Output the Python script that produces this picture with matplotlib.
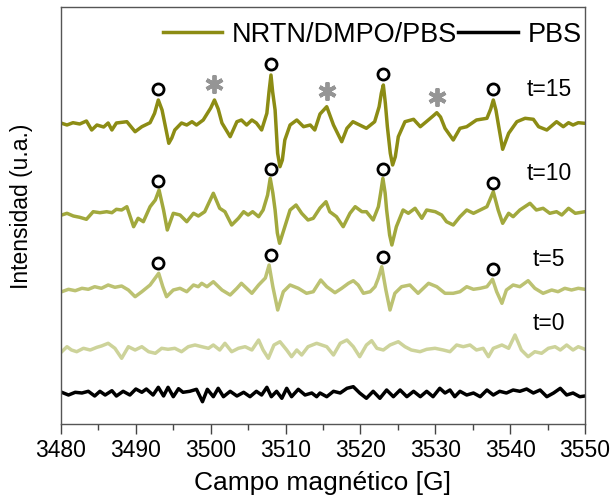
import numpy as np
import matplotlib
matplotlib.use("Agg")
import matplotlib.pyplot as plt
from matplotlib.ticker import MultipleLocator

# EPR spectra (field in G, intensity in arbitrary units), one list pair per trace
field_t15 = [3480.1, 3480.8, 3481.6, 3482.5, 3483.4, 3484.1, 3484.8, 3485.7, 3486.3, 3486.8,
             3487.4, 3488.8, 3489.9, 3490.8, 3491.9, 3492.5, 3493.0, 3493.5, 3494.4, 3494.8,
             3495.2, 3496.1, 3496.8, 3497.5, 3498.1, 3499.0, 3500.0, 3500.5, 3501.0, 3501.5,
             3502.6, 3503.5, 3504.1, 3504.8, 3505.5, 3506.1, 3506.8, 3507.5, 3507.79, 3508.05,
             3508.27, 3508.6, 3508.94, 3509.25, 3509.57, 3509.9, 3510.6, 3511.5, 3512.4, 3513.3,
             3513.9, 3514.6, 3515.5, 3516.4, 3517.5, 3518.2, 3519.0, 3519.9, 3520.8, 3521.9,
             3522.5, 3522.79, 3523.06, 3523.33, 3523.6, 3523.99, 3524.3, 3524.66, 3525.06, 3525.95,
             3527.1, 3528.0, 3528.8, 3529.7, 3530.2, 3530.7, 3531.3, 3532.4, 3533.3, 3534.2,
             3535.5, 3536.9, 3537.4, 3537.75, 3538.1, 3538.4, 3539.0, 3539.8, 3540.9, 3542.0,
             3543.1, 3543.8, 3544.9, 3546.2, 3547.1, 3547.8, 3548.4, 3549.1, 3550.0]
int_t15 = [-0.3, -2, 0.3, -1, 2, -7, -2, -4, 0, -7,
           0, 1.3, -8.7, -3.7, 0.3, 9.7, 23, 13, -20.3, -15,
           -7, 0, -2, 1.3, -2, 3, 15, 23, 14, 0,
           -13.7, 1.3, 3, -2, 3, 0, -7, 9.7, 31.3, 48,
           31.3, 13, -30.3, -43.7, -37, -17, -2, 3, -3.7, -2,
           -7, 9, 16.3, -2, -18.7, -5.3, 1.3, -2, -5.3, 1.3,
           16.3, 29.7, 38, 19.7, -3.7, -30.3, -42, -33.7, -13.7, 1.3,
           3.7, -3.7, 1.3, 7, 10.3, 6, -5.3, -17, -5.3, -3.7,
           3, 4.7, 14, 23, 13, -0.3, -26.3, -10.3, 1.3, 4.7,
           3.7, -3.7, -7, 1.3, -3.7, 0.3, -2, 0.3, -0.3]

field_t10 = [3480.1, 3480.8, 3481.65, 3482.5, 3483.4, 3484.3, 3485.2, 3486.1, 3486.8, 3487.4,
             3488.1, 3488.8, 3489.7, 3490.3, 3491.0, 3491.9, 3492.6, 3493.1, 3493.7, 3494.2,
             3495.0, 3495.9, 3496.8, 3497.7, 3498.35, 3499.2, 3500.35, 3501.2, 3501.9, 3502.8,
             3503.7, 3504.4, 3505.0, 3505.6, 3506.4, 3507.0, 3507.6, 3507.95, 3508.3, 3508.6,
             3508.9, 3509.2, 3509.9, 3510.6, 3511.4, 3512.15, 3513.0, 3513.7, 3514.6, 3515.4,
             3515.9, 3516.8, 3517.7, 3518.6, 3519.3, 3520.2, 3520.8, 3521.7, 3522.4, 3522.7,
             3523.0, 3523.3, 3523.5, 3523.9, 3524.2, 3524.8, 3525.7, 3526.4, 3527.3, 3528.2,
             3528.85, 3530.0, 3530.85, 3531.5, 3532.4, 3533.3, 3534.2, 3535.1, 3536.0, 3536.9,
             3537.75, 3538.4, 3539.0, 3539.8, 3540.4, 3541.3, 3542.65, 3543.5, 3544.4, 3545.3,
             3546.2, 3546.9, 3547.8, 3548.7, 3550.0]
int_t10 = [0, 1.7, -1, -2.3, -4.3, 3.3, 2.3, 3.3, 2.3, 5.7,
           5, 8.3, -11.7, -3.3, -6.7, 8.3, 15, 25, 5, -15,
           1.7, 0, -6.7, 1.7, -1, 3.3, 21.7, 6.7, 3.3, -10,
           -3.3, 3.3, 0, 3.3, -1.7, 5, 20, 36.7, 22, 5,
           -18, -28.3, -11.7, 5, 10, 1.7, -5, -3.3, 7, 13.3,
           3.3, -1.7, -11.7, 1.7, 8.3, 3.3, 3.3, -5, 8.3, 22,
           36.7, 22, 5, -20, -30, -11.7, 5, 1.7, 6.7, -3.3,
           5, 3.3, 0, -6.7, -10, -1.7, 5, 1.7, 5, 8.3,
           23.3, 5, -8.3, 1.7, -1.7, 5, 11.7, 5, 6.7, 1.7,
           3.3, 0, 6.7, 1.7, 3.3]

field_t5 = [3480.1, 3481.0, 3481.9, 3482.8, 3483.65, 3484.5, 3485.4, 3486.3, 3487.2, 3488.1,
            3489.0, 3489.9, 3490.8, 3491.9, 3493.05, 3493.6, 3494.1, 3495.0, 3495.9, 3496.8,
            3497.7, 3498.35, 3498.8, 3499.5, 3500.35, 3501.5, 3502.6, 3503.5, 3504.1, 3504.8,
            3505.5, 3506.4, 3507.3, 3507.8, 3508.3, 3508.95, 3509.7, 3510.6, 3511.7, 3512.8,
            3513.7, 3514.7, 3515.5, 3516.6, 3517.5, 3518.4, 3519.05, 3519.7, 3520.4, 3521.3,
            3521.95, 3522.4, 3522.85, 3523.4, 3523.95, 3524.6, 3525.5, 3526.6, 3527.7, 3529.1,
            3530.2, 3531.3, 3532.4, 3533.3, 3534.2, 3535.1, 3536.0, 3536.9, 3537.65, 3538.2,
            3538.9, 3539.5, 3540.4, 3541.3, 3542.4, 3543.3, 3544.4, 3545.55, 3546.4, 3547.3,
            3548.2, 3549.1, 3550.0]
int_t5 = [-1.7, 0.7, -0.7, 1.7, 0.7, 3.3, 1.7, 5, 2.7, 4,
          0, -6.7, -1.7, 5, 16.7, 3.3, -6.7, 0, 1.7, -1.7,
          5, 3.3, 6.7, 3.3, 8.3, 0, -5, 1.7, 6.7, 1.7,
          -3.3, 5, 12, 25, 3.3, -20, -1.7, 5, 1.7, -3.3,
          -1.7, 10, 3.3, -2.7, 1.7, 6.7, 9.3, 5, -3.3, -1.7,
          3.3, 12, 23.3, 0, -20, -3.3, 3.3, 5, -3.3, 6.7,
          3.3, -3.3, -3.3, -1.7, 3.3, 0.7, 1.7, 3.3, 10.7, -1.7,
          -13.3, 0, 5, 3.3, 9.3, 1.7, -3.3, 0, -1.7, 1.7,
          0, 1.7, 0.7]

field_t0 = [3480.1, 3480.8, 3481.4, 3482.1, 3483.0, 3483.9, 3484.8, 3485.4, 3486.3, 3487.2,
            3488.1, 3489.0, 3489.9, 3490.8, 3491.7, 3492.6, 3493.45, 3494.3, 3495.2, 3496.1,
            3497.0, 3497.9, 3498.8, 3499.7, 3500.35, 3501.2, 3501.9, 3502.8, 3503.7, 3504.6,
            3505.5, 3506.4, 3507.0, 3507.7, 3508.45, 3509.25, 3510.15, 3510.8, 3511.5, 3512.15,
            3513.0, 3514.15, 3515.5, 3516.4, 3517.3, 3518.2, 3519.05, 3519.9, 3520.8, 3521.5,
            3522.2, 3523.06, 3523.95, 3525.06, 3525.95, 3526.8, 3527.96, 3528.85, 3529.96, 3531.07,
            3531.96, 3532.85, 3533.74, 3534.64, 3535.5, 3536.4, 3537.1, 3537.75, 3538.9, 3539.8,
            3540.65, 3541.5, 3542.4, 3543.3, 3544.2, 3545.1, 3546.0, 3546.7, 3547.55, 3548.4,
            3549.1, 3550.0]
int_t0 = [-1.7, 3.3, 0, -1.7, 1.7, 0, 2.7, 4, 6.7, 1.7,
          -8.3, 3.3, 0, 3.3, -1.7, -3.3, 1.7, 0.7, 1.7, -1.7,
          3.3, 5, 3.3, 1.7, 5, 0, 6.7, -1.7, 1.7, 3.3,
          0, 10, 0, -8.3, 5, 8.3, 0, -6.7, 0, -5,
          3.3, 6.7, 3.3, -5, 6.7, 10, 3.3, -6.7, 5, 9.3,
          1.7, 0, 5, 8.3, 3.3, 0, -1.7, 0.7, 1.7, 0,
          -1.7, 5, 3.3, 5, 0, 1.7, -6.7, 1.7, 5, 1.7,
          15, 0, -6.7, -1.7, -3.3, 1.7, 3.3, 0, 5, 0,
          3.3, 0.7]

field_pbs = [3480.1, 3481.0, 3481.9, 3482.8, 3483.65, 3484.5, 3485.2, 3485.9, 3486.8, 3487.4,
             3488.3, 3489.2, 3490.0, 3490.8, 3491.4, 3492.3, 3493.0, 3493.7, 3494.3, 3495.0,
             3495.7, 3496.3, 3497.2, 3498.1, 3498.9, 3499.55, 3500.35, 3501.0, 3501.7, 3502.6,
             3503.5, 3504.4, 3505.25, 3506.1, 3506.8, 3507.5, 3508.1, 3508.8, 3509.5, 3510.15,
             3510.8, 3511.7, 3512.6, 3513.5, 3514.15, 3514.6, 3515.5, 3516.4, 3517.3, 3518.2,
             3519.05, 3519.9, 3520.8, 3521.7, 3522.6, 3523.5, 3524.4, 3525.3, 3526.2, 3527.1,
             3528.0, 3528.85, 3529.7, 3530.6, 3531.3, 3531.96, 3532.6, 3533.3, 3534.2, 3535.1,
             3536.0, 3536.9, 3537.75, 3538.6, 3539.5, 3540.4, 3541.3, 3542.2, 3543.1, 3544.0,
             3544.9, 3545.8, 3546.7, 3547.55, 3548.4, 3549.3, 3550.0]
int_pbs = [0.7, -2, 0.7, 0, 1.7, -3, 1.7, -2, 2.3, -3,
           1.7, -2, 4, 0.7, 4, -2, 5.7, -3, 5.7, -3.7,
           4.3, 0.7, 1.7, 3.7, -8.7, 3.7, -3.7, 4.7, -3.7, 1.7,
           -3, 0.7, -3.7, 1.7, -2, 5.7, -3.7, 1.7, -5.3, 4.7,
           -3.7, 3.7, -2, 0, -3.7, 0, -3.7, 1.7, 0, 4.7,
           6.3, 0, -5.3, 1.7, -5.3, 3, -3.7, 3, -3.7, 1.7,
           -3.7, 1.7, -3.7, 4.7, 0, 3, -3.7, 1.7, -2, 0,
           -3.7, 3, -2, 1.7, 0, 3, 1.7, 4, 0, 3,
           -3.7, 0, 4.7, -2, 0, -3.7, -3]

# DMPO-OH quartet lines (circles) and secondary adduct lines (asterisks)
circle_fields = [3493.0, 3508.0, 3523.0, 3537.7]
star_fields = [3500.5, 3515.5, 3530.2]

trace_labels = ["t=15", "t=10", "t=5", "t=0"]


def peak_height(fx, fy, centre):
    # largest intensity within half a gauss of the line position
    return max(v for f, v in zip(fx, fy) if abs(f - centre) < 0.6)


def build_plot():
    plt.rcParams['font.family'] = ['Liberation Sans', 'DejaVu Sans']

    fig = plt.figure(figsize=(6.14, 4.97), dpi=100)
    ax = fig.add_axes([61 / 614, 73 / 497, 524 / 614, 417 / 497])

    # vertical stacking of the traces: data, offset, colour, label height, circle gap
    traces = [
        (field_t15, int_t15, 301, '#8c8c14', 34, 11),
        (field_t10, int_t10, 209, '#a1a83c', 42, 9),
        (field_t5, int_t5, 134, '#bcc272', 30, 10),
        (field_t0, int_t0, 74, '#cdd39a', 27, None),
    ]

    for i, (fx, fy, off, color, lab_dy, gap) in enumerate(traces):
        y = np.array(fy) + off
        ax.plot(fx, y, color=color, lw=2.5, solid_joinstyle='round',
                label='NRTN/DMPO/PBS' if i == 0 else None)
        ax.text(3545.2, off + lab_dy, trace_labels[i], ha='center', va='center', fontsize=16.5)

        if gap is None:
            continue
        peak_y = [peak_height(fx, fy, c) for c in circle_fields]
        ax.plot(circle_fields, np.array(peak_y) + off + gap, 'o', ms=8, mfc='none',
                mec='black', mew=2, zorder=5)
        if i == 0:
            star_y = [peak_height(fx, fy, c) for c in star_fields]
            ax.plot(star_fields, np.array(star_y) + off + 16, marker=(6, 2, 0), ls='none',
                    ms=13, mec='#959595', mew=2.8, zorder=5)

    ax.plot(field_pbs, np.array(int_pbs) + 31, color='black', lw=2.5,
            solid_joinstyle='round', label='PBS')

    ax.set_xlim(3480, 3550)
    ax.set_ylim(0, 417)
    ax.set_yticks([])
    ax.xaxis.set_major_locator(MultipleLocator(10))
    ax.xaxis.set_minor_locator(MultipleLocator(5))
    ax.tick_params(axis='x', which='major', direction='out', length=7, width=1,
                   labelsize=16.5, pad=4, colors='#444444', labelcolor='black')
    ax.tick_params(axis='x', which='minor', direction='out', length=4, width=1, colors='#444444')
    for sp in ax.spines.values():
        sp.set_color('#555555')
        sp.set_linewidth(1)

    ax.set_xlabel('Campo magnético [G]', fontsize=19, labelpad=6)
    fig.text(22 / 614, 1 - 206 / 497, 'Intensidad (u.a.)', rotation=90,
             ha='center', va='center', fontsize=16.5)

    ax.legend(loc='upper right', bbox_to_anchor=(1.022, 1.0), ncol=2, frameon=False,
              fontsize=19.5, handlelength=2.2, handletextpad=0.35, columnspacing=0.05,
              borderaxespad=0.15)

    fig.savefig('out.png', dpi=100)
    plt.close(fig)


if __name__ == "__main__":
    build_plot()
